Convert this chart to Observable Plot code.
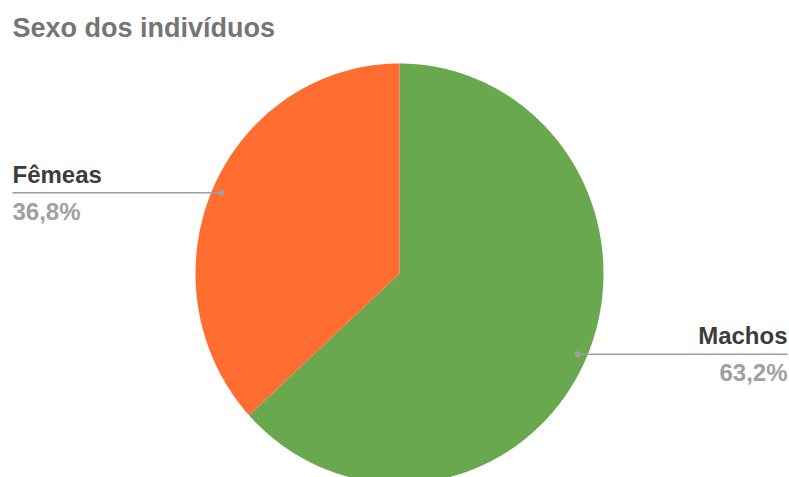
<!DOCTYPE html>
<html>
<head>
<meta charset="utf-8">
<script src="https://cdn.jsdelivr.net/npm/d3@7"></script>
<script src="https://cdn.jsdelivr.net/npm/@observablehq/plot@0.6"></script>
<style>
  html, body { margin: 0; padding: 0; background: #fff; }
  #chart svg { display: block; }
</style>
</head>
<body>
<div id="chart"></div>
<script>
// ---- data ----
const title = "Sexo dos indivíduos";
const categories = ["Machos", "Fêmeas"];
const values = [63.2, 36.8];
const percentLabels = ["63,2%", "36,8%"];
const colors = ["#6aa84f", "#ff6d31"];
const labelSide = ["right", "left"];

// ---- layout ----
const W = 789, H = 477;
const xRange = [195, 603];
const yRange = [483, 63];
const xs = Plot.scale({x: {domain: [-1, 1], range: xRange}});
const ys = Plot.scale({y: {domain: [-1, 1], range: yRange}});

// slices (clockwise from 12 o'clock)
const total = d3.sum(values);
const pts = [];
const labels = [];
let acc = 0;
categories.forEach((c, i) => {
  const a0 = acc / total * 2 * Math.PI;
  acc += values[i];
  const a1 = acc / total * 2 * Math.PI;
  pts.push({cat: c, x: 0, y: 0});
  const n = Math.max(2, Math.ceil((a1 - a0) / (Math.PI / 360)));
  for (let k = 0; k <= n; k++) {
    const a = a0 + (a1 - a0) * k / n;
    pts.push({cat: c, x: Math.sin(a), y: Math.cos(a)});
  }
  const am = (a0 + a1) / 2;
  const dx = 0.955 * Math.sin(am), dy = 0.955 * Math.cos(am);
  const side = labelSide[i];
  const endX = side === "left" ? xs.invert(12) : xs.invert(787);
  labels.push({cat: c, pct: percentLabels[i], side, dx, dy, endX});
});

const leftLabels = labels.filter(d => d.side === "left");
const rightLabels = labels.filter(d => d.side === "right");

function labelMarks(data, anchor) {
  return [
    Plot.text(data, {x: "endX", y: "dy", text: "cat", dy: -10, lineAnchor: "bottom",
      textAnchor: anchor, fill: "#3c3c3c", fontWeight: "bold", fontSize: 24}),
    Plot.text(data, {x: "endX", y: "dy", text: "pct", dy: 27, lineAnchor: "bottom",
      textAnchor: anchor, fill: "#a0a0a0", fontWeight: "bold", fontSize: 24})
  ];
}

const chart = Plot.plot({
  width: W,
  height: H,
  margin: 0,
  x: {domain: [-1, 1], range: xRange, axis: null},
  y: {domain: [-1, 1], range: yRange, axis: null},
  color: {domain: categories, range: colors},
  style: {fontFamily: "Arial, 'Liberation Sans', sans-serif", background: "#fff"},
  marks: [
    Plot.line(pts, {x: "x", y: "y", z: "cat", fill: "cat", stroke: "none", curve: "linear-closed"}),
    Plot.link(labels, {x1: "dx", y1: "dy", x2: "endX", y2: "dy", stroke: "#9e9e9e", strokeWidth: 1.5}),
    Plot.dot(labels, {x: "dx", y: "dy", r: 3, fill: "#9e9e9e", stroke: "none"}),
    ...labelMarks(leftLabels, "start"),
    ...labelMarks(rightLabels, "end"),
    Plot.text([title], {x: xs.invert(12), y: ys.invert(36), text: d => d, lineAnchor: "bottom",
      textAnchor: "start", fill: "#757575", fontWeight: "bold", fontSize: 27})
  ]
});
document.getElementById("chart").append(chart);
</script>
</body>
</html>
